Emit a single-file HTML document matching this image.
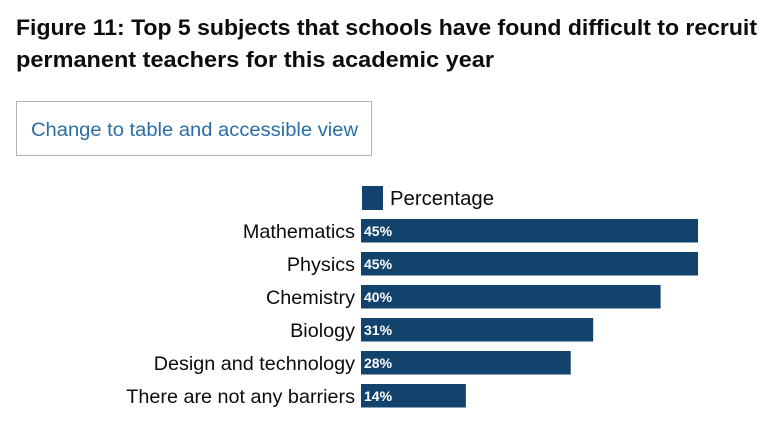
<!DOCTYPE html>
<html><head><meta charset="utf-8"><style>
html,body{margin:0;padding:0;background:#fff;width:780px;height:421px;overflow:hidden}
svg{display:block;font-family:"Liberation Sans",sans-serif}
</style></head><body>
<svg id="chart" width="780" height="421">
<text x="16" y="35" font-size="22" font-weight="bold" fill="#0b0c0c" textLength="741" lengthAdjust="spacingAndGlyphs">Figure 11: Top 5 subjects that schools have found difficult to recruit</text>
<text x="16" y="67" font-size="22" font-weight="bold" fill="#0b0c0c" textLength="478" lengthAdjust="spacingAndGlyphs">permanent teachers for this academic year</text>
<g>
<rect x="16.5" y="101.5" width="355" height="54" fill="#fff" stroke="#b1b4b6" stroke-width="1"/>
<text x="31" y="136" font-size="19" fill="#2a6ea6" textLength="327" lengthAdjust="spacingAndGlyphs">Change to table and accessible view</text>
</g>
<g>
<rect x="362" y="186" width="21" height="24" fill="#12436d"/>
<text x="390" y="205" font-size="20" fill="#0b0c0c" textLength="104" lengthAdjust="spacingAndGlyphs">Percentage</text>
</g>
<g id="bars"></g>
</svg>
<script>
const categories=["Mathematics","Physics","Chemistry","Biology","Design and technology","There are not any barriers"];
const values=[45,45,40,31,28,14];
const valueLabels=["45%","45%","40%","31%","28%","14%"];
const ns="http://www.w3.org/2000/svg";
const x0=361, pxPer=7.49, y0=219, step=33, bh=23.5;
const xs=v=>v*pxPer;
const ys=i=>y0+i*step;
const g=document.getElementById('bars');
categories.forEach((c,i)=>{
  const r=document.createElementNS(ns,'rect');
  
  
  r.setAttribute('x',x0);r.setAttribute('y',ys(i));
  r.setAttribute('width',xs(values[i]));r.setAttribute('height',bh);
  r.setAttribute('fill','#12436d');g.appendChild(r);
  const t=document.createElementNS(ns,'text');
  
  
  t.setAttribute('x',355);t.setAttribute('y',ys(i)+19);
  t.setAttribute('text-anchor','end');t.setAttribute('font-size','19.8');t.setAttribute('fill','#0b0c0c');
  t.textContent=c;g.appendChild(t);
  const v=document.createElementNS(ns,'text');
  
  
  v.setAttribute('x',364);v.setAttribute('y',ys(i)+17);
  v.setAttribute('font-size','14');v.setAttribute('font-weight','bold');v.setAttribute('fill','#fff');
  v.textContent=valueLabels[i];g.appendChild(v);
});
</script>
</body></html>
